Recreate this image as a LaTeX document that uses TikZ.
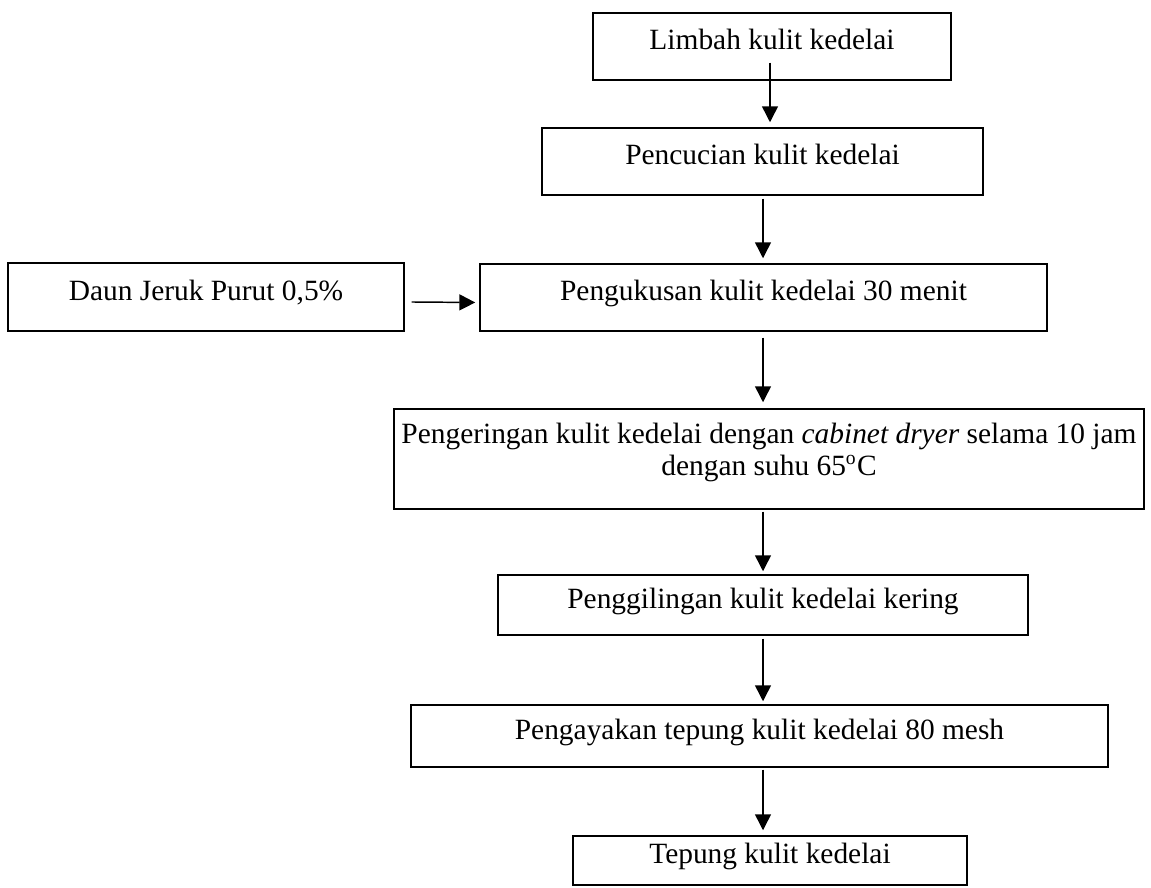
\documentclass[tikz,border=0pt]{standalone}
\usepackage{fontspec}
\setmainfont{Liberation Serif}
\usetikzlibrary{arrows.meta,calc}
\tikzset{
stepbox/.style={draw,line width=0.6pt,rectangle,inner sep=0pt,align=center},
oneline/.style={stepbox,text height=0.75em,text depth=0.5em},
arr/.style={-{Triangle[length=6.5pt,width=6.5pt]},line width=0.6pt},
}
\tikzstyle{every node}=[font=\fontsize{12pt}{13pt}\selectfont]

\begin{document}
\begin{tikzpicture}[x=0.408pt,y=-0.408pt]
        \useasboundingbox (0,0) rectangle (1151,888);
        \coordinate (spine) at (763,0);
        % main line
        \node[oneline,minimum width=358*0.408pt,minimum height=67*0.408pt] (limbah) at (772,46.5) {Limbah kulit kedelai};
        \node[oneline,minimum width=441*0.408pt,minimum height=67*0.408pt] (cuci) at (762.5,161.5) {Pencucian kulit kedelai};
        \node[oneline,minimum width=396*0.408pt,minimum height=68*0.408pt] (daun) at (206,297) {Daun Jeruk Purut 0,5\%};
        \node[oneline,minimum width=567*0.408pt,minimum height=67*0.408pt] (kukus) at (763.5,297.5) {Pengukusan kulit kedelai 30 menit};
        \node[stepbox,minimum width=750*0.408pt,minimum height=100*0.408pt] (kering) at (769,459)
            {Pengeringan kulit kedelai dengan \textit{cabinet dryer} selama 10 jam\\dengan suhu 65\textsuperscript{o}C\\[-5pt]\mbox{}};
        \node[oneline,minimum width=530*0.408pt,minimum height=60*0.408pt] (giling) at (763,605) {Penggilingan kulit kedelai kering};
        \node[oneline,minimum width=697*0.408pt,minimum height=62*0.408pt] (ayak) at (759.5,736) {Pengayakan tepung kulit kedelai 80 mesh};
        \node[oneline,minimum width=394*0.408pt,minimum height=49*0.408pt] (tepung) at (770,860.5) {Tepung kulit kedelai};

        % arrows
        \coordinate (a1) at ($(limbah.south)+(-2,-18)$);
        \draw[arr] (a1) -- ($(a1 |- cuci.north)+(0,-5)$);
        \draw[arr] ($(cuci.south -| spine)+(0,3)$) -- ($(kukus.north -| spine)+(0,-5)$);
        \draw[arr] ($(daun.east)+(7,5)$) -- ($(kukus.west)+(-4,5)$);
        \draw[arr] ($(kukus.south -| spine)+(0,6)$) -- ($(kering.north -| spine)+(0,-6)$);
        \draw[arr] ($(kering.south -| spine)+(0,2)$) -- ($(giling.north -| spine)+(0,-3)$);
        \draw[arr] ($(giling.south -| spine)+(0,3)$) -- ($(ayak.north -| spine)+(0,-3)$);
        \draw[arr] ($(ayak.south -| spine)+(0,2)$) -- ($(tepung.north -| spine)+(0,-5)$);
    \end{tikzpicture}
\end{document}
